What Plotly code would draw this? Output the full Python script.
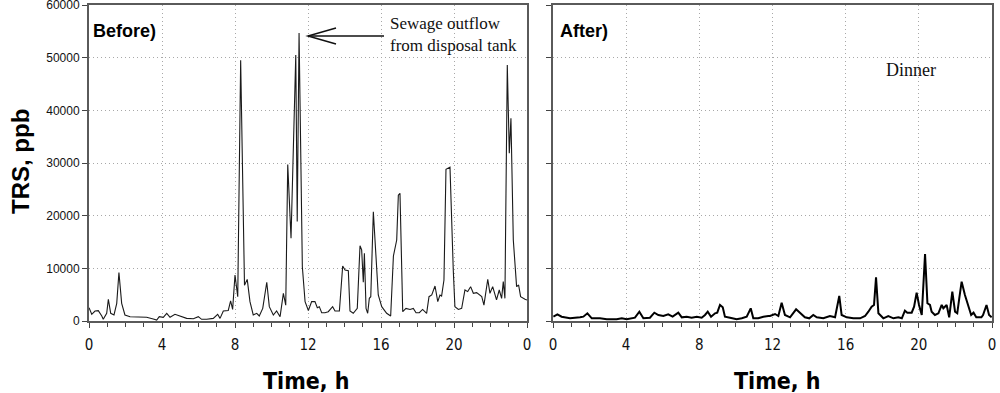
import plotly.graph_objects as go

# ---------------- data ----------------
before_hours = [0.00, 0.15, 0.33, 0.51, 0.70, 0.78, 0.97, 1.06, 1.19, 1.37, 1.52, 1.64, 1.79, 1.97, 2.25,
                2.79, 3.16, 3.52, 3.71, 3.85, 4.07, 4.26, 4.44, 4.71, 4.99, 5.35, 5.72, 5.99, 6.17, 6.45,
                6.81, 7.05, 7.18, 7.36, 7.63, 7.76, 7.87, 8.00, 8.15, 8.31, 8.52, 8.67, 8.82, 9.00, 9.19,
                9.33, 9.52, 9.74, 9.88, 10.10, 10.28, 10.47, 10.65, 10.78, 10.89, 11.07, 11.33, 11.41, 11.51,
                11.69, 11.84, 12.02, 12.20, 12.38, 12.51, 12.62, 12.75, 12.93, 13.11, 13.35, 13.48, 13.72,
                13.90, 14.03, 14.21, 14.30, 14.48, 14.70, 14.85, 14.94, 15.03, 15.09, 15.18, 15.27, 15.36,
                15.44, 15.58, 15.73, 15.85, 16.04, 16.31, 16.53, 16.68, 16.86, 16.95, 17.04, 17.19, 17.37,
                17.59, 17.77, 17.92, 18.10, 18.28, 18.50, 18.63, 18.78, 18.96, 19.11, 19.23, 19.32, 19.45,
                19.56, 19.78, 19.96, 20.05, 20.24, 20.42, 20.60, 20.75, 20.91, 21.06, 21.24, 21.52, 21.64,
                21.85, 21.97, 22.12, 22.33, 22.48, 22.61, 22.70, 22.79, 22.92, 23.03, 23.12, 23.25, 23.43,
                23.54, 23.65, 23.89, 24.00]
before_trs = [2530, 1270, 1900, 1960, 950, 320, 1460, 4120, 1460, 1140, 3360, 9200, 3360, 1140, 820,
              700, 700, 380, 170, 820, 700, 1460, 700, 1270, 950, 500, 440, 820, 320, 320,
              500, 1270, 500, 1900, 2000, 3800, 2200, 8740, 4620, 49500, 6800, 7900, 3670, 1140, 1460,
              950, 2400, 7350, 2720, 1140, 1900, 820, 5260, 3000, 29700, 15700, 50500, 18900, 54700,
              10300, 3670, 2000, 3670, 3670, 2530, 2720, 1580, 1580, 1770, 2720, 1900, 1900,
              10450, 9680, 9550, 1900, 1460, 2400, 14300, 13500, 7350, 12850, 2400, 1460, 4300,
              4620, 20760, 12200, 4940, 2720, 1460, 950, 12340, 15380, 23900, 24250, 1770, 2400,
              2200, 2400, 1580, 1580, 2200, 1460, 4620, 4940, 6650, 3670, 4940, 4750, 7790,
              28800, 29200, 9680, 2720, 2200, 2400, 5890, 5580, 6520, 5260, 5380, 4620, 3000,
              7920, 5260, 6520, 4000, 5890, 4300, 7470, 4300, 48600, 31850, 38500, 15380, 6520,
              6840, 4620, 4120, 3990]

after_hours = [0.02, 0.24, 0.47, 0.93, 1.48, 1.66, 1.88, 2.12, 2.57, 2.94, 3.48, 3.76, 4.03, 4.48, 4.72,
               4.94, 5.30, 5.54, 5.76, 6.03, 6.30, 6.54, 6.85, 7.04, 7.31, 7.58, 7.86, 8.13, 8.31, 8.46,
               8.64, 8.86, 8.98, 9.13, 9.28, 9.40, 9.68, 10.04, 10.32, 10.59, 10.81, 10.95, 11.22, 11.50,
               11.77, 11.86, 12.14, 12.32, 12.50, 12.68, 12.96, 13.29, 13.50, 13.77, 14.01, 14.23, 14.42,
               14.78, 15.14, 15.42, 15.65, 15.78, 16.06, 16.42, 16.79, 17.06, 17.24, 17.42, 17.55, 17.66,
               17.79, 18.06, 18.33, 18.61, 18.88, 19.07, 19.24, 19.37, 19.61, 19.74, 19.88, 20.01, 20.16,
               20.34, 20.47, 20.61, 20.70, 20.88, 21.07, 21.25, 21.34, 21.43, 21.52, 21.66, 21.83, 21.98,
               22.10, 22.21, 22.34, 22.52, 22.70, 22.86, 22.99, 23.14, 23.42, 23.51, 23.70, 23.84, 23.98]
after_trs = [820, 1270, 820, 510, 700, 820, 1460, 510, 510, 320, 320, 510, 320, 630, 1770,
             510, 630, 1580, 1140, 950, 1270, 820, 1580, 700, 820, 630, 820, 630, 1140, 1770,
             820, 1460, 1580, 3040, 2600, 820, 630, 320, 510, 820, 2400, 510, 510, 820,
             950, 950, 1330, 950, 3480, 1140, 700, 2220, 1580, 700, 510, 1140, 700,
             510, 950, 700, 4750, 1140, 700, 510, 510, 950, 1770, 2720, 3040, 8290,
             1460, 510, 950, 510, 700, 510, 1960, 1580, 1580, 2720, 5380, 3040, 1140,
             12720, 3360, 3040, 1770, 1140, 1460, 3040, 2410, 2720, 3040, 700, 5570, 1770,
             1460, 4310, 7470, 4940, 3040, 1140, 1580, 700, 700, 1140, 3040, 1140, 700]

x_tickvals = [0, 4, 8, 12, 16, 20, 24]
x_ticktext = ["0", "4", "8", "12", "16", "20", "0"]
y_tickvals = [0, 10000, 20000, 30000, 40000, 50000, 60000]
y_ticktext = ["0", "10000", "20000", "30000", "40000", "50000", "60000"]

# ---------------- figure ----------------
fig = go.Figure()
fig.add_trace(go.Scatter(x=before_hours, y=before_trs, mode="lines",
                         line=dict(color="#1a1a1a", width=1.1), xaxis="x", yaxis="y",
                         showlegend=False, hoverinfo="skip"))
fig.add_trace(go.Scatter(x=after_hours, y=after_trs, mode="lines",
                         line=dict(color="#000000", width=2), xaxis="x2", yaxis="y2",
                         showlegend=False, hoverinfo="skip"))

narrow = "Liberation Sans Narrow, Arial Narrow, DejaVu Sans Condensed, sans-serif"
tick_font = dict(family=narrow, size=15, color="#111")
axis_common = dict(showline=True, linecolor="#5a5a5a", linewidth=2, mirror=True,
                   showgrid=True, gridcolor="#a8a8a8", griddash="1px,3px", gridwidth=1,
                   zeroline=False, ticks="outside", tickcolor="#444", ticklen=5, tickwidth=1,
                   automargin=False, ticklabeloverflow="allow")

xdom1 = [0.089, 0.527]
xdom2 = [0.553, 0.992]
ydom = [1 - 321 / 393, 1 - 5 / 393]

fig.update_layout(
    width=1000, height=393,
    margin=dict(l=0, r=0, t=0, b=0, autoexpand=False),
    paper_bgcolor="white", plot_bgcolor="white",
    xaxis=dict(domain=xdom1, range=[0, 24], tickvals=x_tickvals, ticktext=x_ticktext,
               tickfont=tick_font, anchor="y", ticklabelstandoff=4,
               minor=dict(dtick=1, tick0=0, ticks="outside", ticklen=4, tickcolor="#444", showgrid=False),
               **axis_common),
    yaxis=dict(domain=ydom, range=[0, 60000], tickvals=y_tickvals, ticktext=y_ticktext,
               tickfont=dict(family="Liberation Sans, Arial, sans-serif", size=12, color="#111"),
               anchor="x", **axis_common),
    xaxis2=dict(domain=xdom2, range=[0, 24], tickvals=x_tickvals, ticktext=x_ticktext,
                tickfont=tick_font, anchor="y2", ticklabelstandoff=4,
                minor=dict(dtick=1, tick0=0, ticks="outside", ticklen=4, tickcolor="#444", showgrid=False),
                **axis_common),
    yaxis2=dict(domain=ydom, range=[0, 60000], tickvals=y_tickvals, showticklabels=False,
                anchor="x2", **axis_common),
)

bold_narrow = dict(family=narrow, size=23, color="#000")
serif = dict(family="Liberation Serif, Times New Roman, serif", size=17, color="#111")

annotations = [
    dict(text="<b>Time, h</b>", x=0.306, y=1 - 381 / 393, xref="paper", yref="paper",
         showarrow=False, font=bold_narrow, xanchor="center", yanchor="middle"),
    dict(text="<b>Time, h</b>", x=0.777, y=1 - 381 / 393, xref="paper", yref="paper",
         showarrow=False, font=bold_narrow, xanchor="center", yanchor="middle"),
    dict(text="<b>TRS, ppb</b>", x=0.020, y=1 - 162 / 393, xref="paper", yref="paper",
         showarrow=False, textangle=-90,
         font=dict(family="Liberation Sans, Arial, sans-serif", size=24, color="#000"),
         xanchor="center", yanchor="middle"),
    dict(text="<b>Before)</b>", x=0.091, y=1 - 31 / 393, xref="paper", yref="paper",
         showarrow=False, font=dict(family="Liberation Sans, Arial, sans-serif", size=18, color="#000"),
         xanchor="left", yanchor="middle"),
    dict(text="<b>After)</b>", x=0.558, y=1 - 31 / 393, xref="paper", yref="paper",
         showarrow=False, font=dict(family="Liberation Sans, Arial, sans-serif", size=18, color="#000"),
         xanchor="left", yanchor="middle"),
    dict(text="Sewage outflow<br>from disposal tank", x=0.388, y=1 - 34 / 393, xref="paper", yref="paper",
         showarrow=False, font=serif, align="left", xanchor="left", yanchor="middle"),
    dict(text="Dinner", x=0.911, y=1 - 70 / 393, xref="paper", yref="paper",
         showarrow=False, font=dict(family="Liberation Serif, Times New Roman, serif", size=18, color="#111"),
         xanchor="center", yanchor="middle"),
]
fig.update_layout(annotations=annotations)


# open arrow pointing at the sewage outflow peak
def px(xp):
    return xp / 1000


def py(yp):
    return 1 - yp / 393


shapes = [
    dict(type="line", xref="paper", yref="paper", x0=px(308), y0=py(36), x1=px(384), y1=py(36),
         line=dict(color="#111", width=1.5)),
    dict(type="path", xref="paper", yref="paper",
         path=f"M {px(336)},{py(28)} L {px(308)},{py(36)} L {px(336)},{py(44)}",
         line=dict(color="#111", width=1.5)),
]
fig.update_layout(shapes=shapes)

fig.write_html("out.html", config={"displayModeBar": False},
               post_script="document.body.style.margin='0';document.body.style.overflow='hidden';")
